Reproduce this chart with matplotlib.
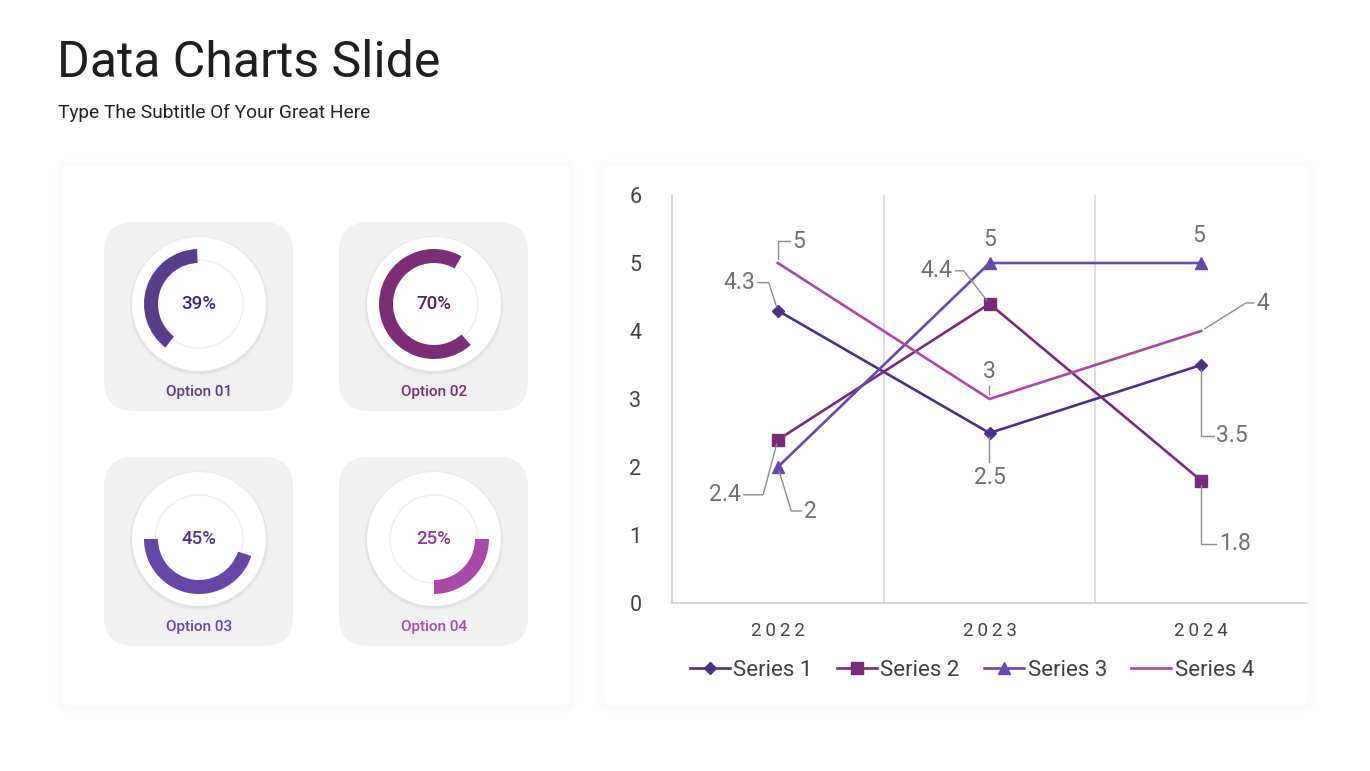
import matplotlib
matplotlib.use("Agg")
import matplotlib.pyplot as plt
from matplotlib.patches import FancyBboxPatch, Circle, Wedge

W, H = 1370, 771
plt.rcParams['font.family'] = ['Roboto', 'DejaVu Sans']

# ---------------- data ----------------
title = "Data Charts Slide"
subtitle = "Type The Subtitle Of Your Great Here"
donut_labels = ["Option 01", "Option 02", "Option 03", "Option 04"]
donut_values = [39, 70, 45, 25]
years = ["2022", "2023", "2024"]
series_names = ["Series 1", "Series 2", "Series 3", "Series 4"]
series1 = [4.3, 2.5, 3.5]
series2 = [2.4, 4.4, 1.8]
series3 = [2, 5, 5]
series4 = [5, 3, 4]
yticks = [0, 1, 2, 3, 4, 5, 6]

# ---------------- styles ----------------
ring_colors = ["#5a3c8e", "#7b2d78", "#6647a8", "#a84aa6"]
pct_colors = ["#3f2a6a", "#5e2058", "#4d3585", "#8e3a8c"]
ring_start = [92, 60, 180, None]          # start angle of each arc (deg); None = ends at 0 deg
series_colors = ["#4c3183", "#7a2b76", "#6848ad", "#aa48a8"]
series_markers = ["D", "s", "^", None]
marker_sizes = [6, 8, 8.5, 0]
label_gray = "#707070"

fig = plt.figure(figsize=(13.7, 7.71), dpi=100)
fig.patch.set_facecolor("white")
bg = fig.add_axes([0, 0, 1, 1])
bg.set_xlim(0, W)
bg.set_ylim(0, H)
bg.axis("off")


def Y(y):
    return H - y


def panel(x0, y0, x1, y1):
    for i in range(5):
        pad = 1 + i * 2
        bg.add_patch(FancyBboxPatch((x0 - pad, Y(y1) - pad - 1), x1 - x0 + 2 * pad,
                                    y1 - y0 + 2 * pad,
                                    boxstyle=f"round,pad=0,rounding_size={6 + pad}",
                                    fc="black", ec="none", alpha=0.005))
    bg.add_patch(FancyBboxPatch((x0, Y(y1)), x1 - x0, y1 - y0,
                                boxstyle="round,pad=0,rounding_size=6",
                                fc="white", ec="none"))


panel(62, 165, 570, 705)
panel(604, 165, 1308, 705)

# title
bg.text(57, Y(63), title, fontsize=36, color="#1e1e1e", ha="left", va="center")
bg.text(58, Y(113), subtitle, fontsize=13.8, color="#222222", ha="left", va="center")

# donut tiles
tile_x = [104, 339, 104, 339]
tile_y = [222, 222, 457, 457]
tile = 189
for i in range(4):
    x0, y0 = tile_x[i], tile_y[i]
    bg.add_patch(FancyBboxPatch((x0, Y(y0 + tile)), tile, tile,
                                boxstyle="round,pad=0,rounding_size=30",
                                fc="#f1f1f1", ec="none"))
    cx, cy = x0 + tile / 2 + 0.5, Y(y0 + 82)
    for r, a in [(70, 0.015), (69, 0.02), (68, 0.025)]:
        bg.add_patch(Circle((cx, cy - 1.5), r, fc="black", ec="none", alpha=a))
    bg.add_patch(Circle((cx, cy), 67, fc="white", ec="none"))
    bg.add_patch(Circle((cx, cy), 44, fc="white", ec="#f0f0f0", lw=1.2))
    span = donut_values[i] / 100 * 360
    if ring_start[i] is None:
        t1, t2 = -span, 0
    else:
        t1, t2 = ring_start[i], ring_start[i] + span
    bg.add_patch(Wedge((cx, cy), 55, t1, t2, width=14, fc=ring_colors[i], ec="none"))
    bg.text(cx, cy, f"{donut_values[i]}%", fontsize=13.5, fontweight="medium",
            color=pct_colors[i], ha="center", va="center")
    bg.text(cx, Y(y0 + 170), donut_labels[i], fontsize=11, fontweight="medium",
            color=ring_colors[i], ha="center", va="center")

# ---------------- line chart ----------------
ax = fig.add_axes([672 / W, (H - 603) / H, (1307 - 672) / W, (603 - 195) / H])
ax.set_facecolor("none")
x = list(range(len(years)))
all_series = [series1, series2, series3, series4]
for s, name, c, m, ms in zip(all_series, series_names, series_colors,
                             series_markers, marker_sizes):
    ax.plot(x, s, color=c, lw=1.9, marker=m, ms=ms, mfc=c, mec=c,
            label=name, zorder=3)

ax.set_xlim(-0.5, 2.5)
ax.set_ylim(0, 6)
ax.set_yticks(yticks)
ax.set_xticks(x)
ax.set_xticklabels(["\u2009".join(y) for y in years])
for xv in [0.5, 1.5]:
    ax.axvline(xv, color="#d9d9d9", lw=1.2, zorder=1)
for sp in ["top", "right"]:
    ax.spines[sp].set_visible(False)
for sp in ["left", "bottom"]:
    ax.spines[sp].set_color("#d0d0d0")
    ax.spines[sp].set_linewidth(1.2)
ax.tick_params(axis="y", length=0, pad=22, labelsize=15.5, labelcolor="#444444")
ax.tick_params(axis="x", length=0, pad=13.5, labelsize=13.5, labelcolor="#444444")

# data labels: (series index, point index, offset px, relpos, connection)
label_specs = [
    (0, 0, (-39, 28), (1, 0.5), "angle,angleA=0,angleB=108,rad=0"),
    (0, 1, (0, -44), (0.5, 1), "arc3"),
    (0, 2, (31, -71), (0, 0.5), "angle,angleA=0,angleB=90,rad=0"),
    (1, 0, (-53, -55), (1, 0.5), "angle,angleA=0,angleB=75,rad=0"),
    (1, 1, (-53, 33), (1, 0.5), "angle,angleA=0,angleB=-52,rad=0"),
    (1, 2, (34, -63), (0, 0.5), "angle,angleA=0,angleB=90,rad=0"),
    (2, 0, (33, -44), (0, 0.5), "angle,angleA=0,angleB=107,rad=0"),
    (2, 1, (0, 24), None, None),
    (2, 2, (-2, 28), None, None),
    (3, 0, (21, 22), (0, 0.5), "angle,angleA=0,angleB=90,rad=0"),
    (3, 1, (0, 27), (0.5, 0), "arc3"),
    (3, 2, (62, 28), (0, 0.5), "angle,angleA=0,angleB=32,rad=0"),
]
for si, pi, off, rel, conn in label_specs:
    v = all_series[si][pi]
    txt = f"{v:g}"
    kw = {}
    if conn is not None:
        kw["arrowprops"] = dict(arrowstyle="-", color="#8c8c8c", lw=1.0,
                                connectionstyle=conn, relpos=rel,
                                shrinkA=0, shrinkB=3)
    ax.annotate(txt, (x[pi], v), xytext=off, textcoords="offset pixels",
                ha="center", va="center", fontsize=16.5, color=label_gray,
                zorder=4, annotation_clip=False, **kw)

leg = ax.legend(loc="center", bbox_to_anchor=(972 / W, Y(670) / H),
                bbox_transform=fig.transFigure, ncol=4, frameon=False,
                fontsize=16, handlelength=1.8, handletextpad=0.15,
                columnspacing=1.1, labelcolor="#404040")

fig.savefig("out.png", dpi=100, facecolor="white")
